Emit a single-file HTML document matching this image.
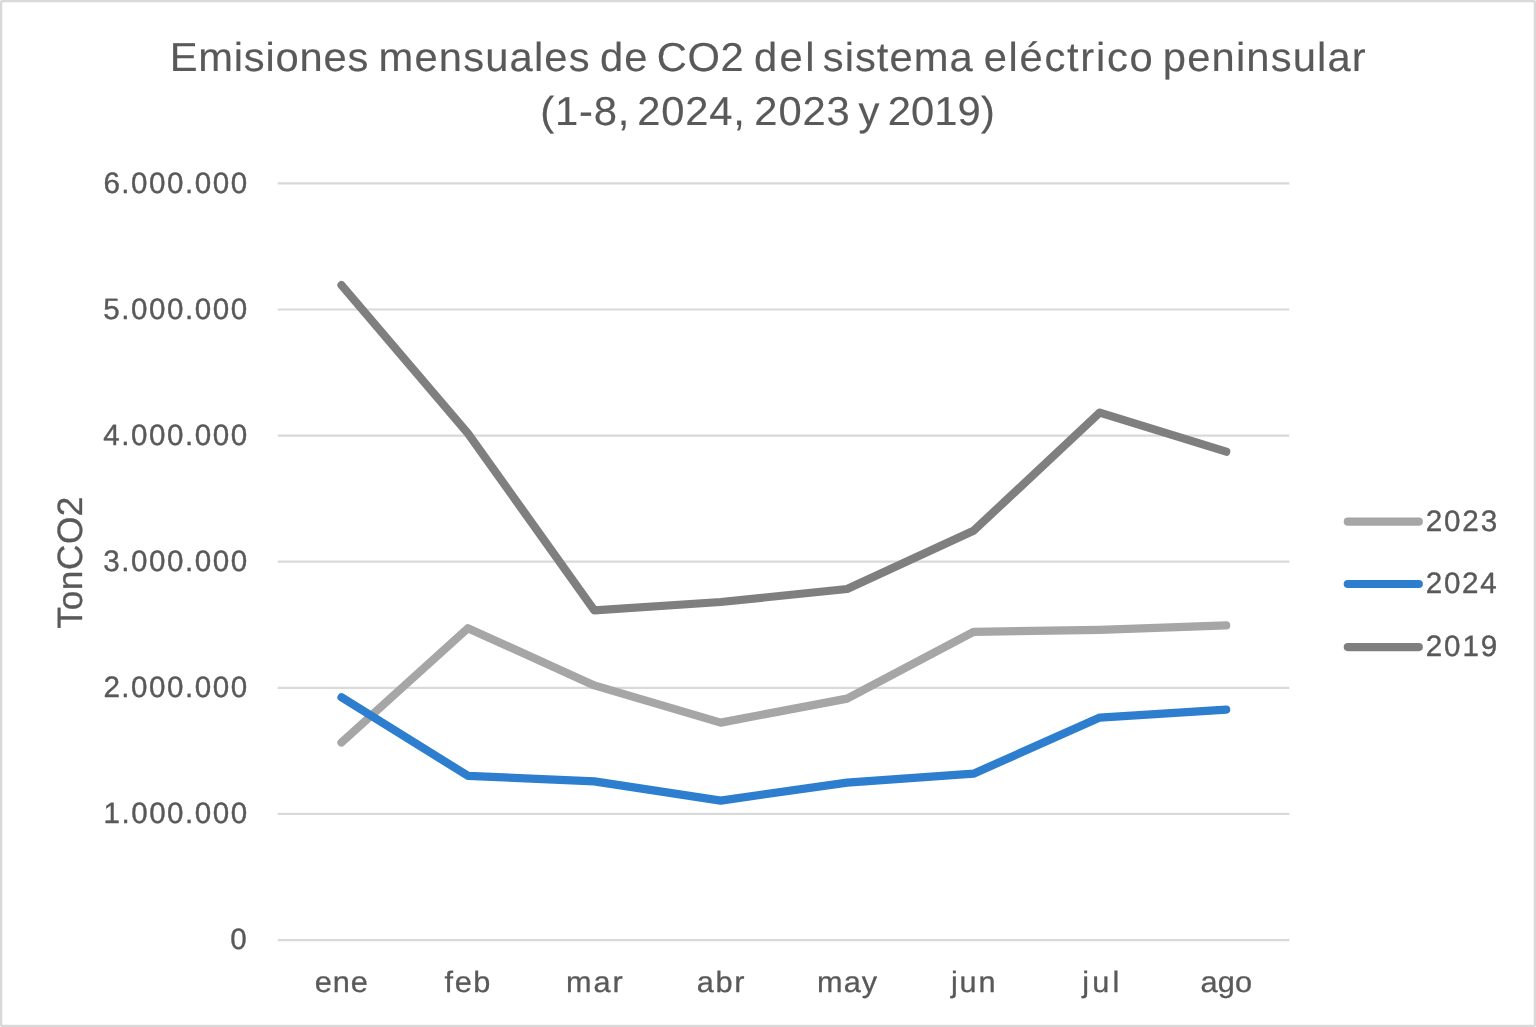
<!DOCTYPE html>
<html lang="es">
<head>
<meta charset="utf-8">
<title>Emisiones mensuales de CO2 del sistema eléctrico peninsular</title>
<style>
html,body{margin:0;padding:0;background:#fff;}
body{width:1536px;height:1027px;overflow:hidden;}
svg{display:block;}
text{font-family:"Liberation Sans", sans-serif;fill:#595959;stroke:#595959;stroke-linejoin:round;text-rendering:geometricPrecision;}
</style>
</head>
<body>
<svg width="1536" height="1027" viewBox="0 0 1536 1027">
<rect x="0" y="0" width="1536" height="1027" fill="#ffffff"/>
<rect x="1.15" y="1.15" width="1533.7" height="1024.7" rx="0.6" ry="0.6" fill="none" stroke="#D9D9D9" stroke-width="2.3"/>

<g id="title" stroke-width="0.15">
<text transform="scale(1.03,1)" y="71" font-size="40.5"><tspan x="164.70" letter-spacing="0.752">Emisiones</tspan> <tspan x="367.53" letter-spacing="1.129">mensuales</tspan> <tspan x="582.43" letter-spacing="1.193">de</tspan> <tspan x="637.71" letter-spacing="0.490">CO2</tspan> <tspan x="731.95" letter-spacing="2.447">del</tspan> <tspan x="798.88" letter-spacing="0.975">sistema</tspan> <tspan x="955.04" letter-spacing="1.658">eléctrico</tspan> <tspan x="1128.98" letter-spacing="1.126">peninsular</tspan></text>
<text transform="scale(1.03,1)" y="125" font-size="40.5"><tspan x="524.44" letter-spacing="0.841">(1-8,</tspan> <tspan x="618.81" letter-spacing="0.776">2024,</tspan> <tspan x="732.40" letter-spacing="0.793">2023</tspan> <tspan x="833.51" letter-spacing="0.000">y</tspan> <tspan x="861.92" letter-spacing="0.084">2019)</tspan></text>
</g>
<g id="gridlines">
<line x1="277.7" y1="940.05" x2="1289.3" y2="940.05" stroke="#D9D9D9" stroke-width="2.2"/>
<line x1="277.7" y1="813.94" x2="1289.3" y2="813.94" stroke="#D9D9D9" stroke-width="2.2"/>
<line x1="277.7" y1="687.83" x2="1289.3" y2="687.83" stroke="#D9D9D9" stroke-width="2.2"/>
<line x1="277.7" y1="561.72" x2="1289.3" y2="561.72" stroke="#D9D9D9" stroke-width="2.2"/>
<line x1="277.7" y1="435.62" x2="1289.3" y2="435.62" stroke="#D9D9D9" stroke-width="2.2"/>
<line x1="277.7" y1="309.51" x2="1289.3" y2="309.51" stroke="#D9D9D9" stroke-width="2.2"/>
<line x1="277.7" y1="183.40" x2="1289.3" y2="183.40" stroke="#D9D9D9" stroke-width="2.2"/>
</g>
<g id="y-axis-labels" stroke-width="0.4">
<text x="230.32" letter-spacing="0.000" y="949.00" font-size="29.6">0</text>
<text x="103.46" letter-spacing="1.517" y="823.00" font-size="29.6">1.000.000</text>
<text x="103.38" letter-spacing="1.526" y="697.00" font-size="29.6">2.000.000</text>
<text x="103.35" letter-spacing="1.530" y="571.00" font-size="29.6">3.000.000</text>
<text x="103.30" letter-spacing="1.536" y="445.00" font-size="29.6">4.000.000</text>
<text x="103.36" letter-spacing="1.529" y="319.00" font-size="29.6">5.000.000</text>
<text x="103.38" letter-spacing="1.526" y="193.00" font-size="29.6">6.000.000</text>
</g>
<g id="x-axis-labels" stroke-width="0.3">
<text transform="translate(314.83,992) scale(1.04,1)" letter-spacing="0.811" font-size="29.5">ene</text>
<text transform="translate(444.61,992) scale(1.04,1)" letter-spacing="1.518" font-size="29.5">feb</text>
<text transform="translate(565.88,992) scale(1.04,1)" letter-spacing="1.934" font-size="29.5">mar</text>
<text transform="translate(696.83,992) scale(1.04,1)" letter-spacing="1.579" font-size="29.5">abr</text>
<text transform="translate(816.93,992) scale(1.04,1)" letter-spacing="1.102" font-size="29.5">may</text>
<text transform="translate(951.00,992) scale(1.04,1)" letter-spacing="1.700" font-size="29.5">jun</text>
<text transform="translate(1082.25,992) scale(1.04,1)" letter-spacing="3.023" font-size="29.5">jul</text>
<text transform="translate(1200.53,992) scale(1.04,1)" letter-spacing="0.202" font-size="29.5">ago</text>
</g>
<text id="y-axis-title" stroke-width="0.35" transform="translate(81.8,627.8) rotate(-90)" x="-0.62" letter-spacing="0.537" font-size="35.2">TonCO2</text>
<g id="series">
<polyline points="341.5,742.5 467.9,628.2 594.3,685.4 720.7,722.6 847.1,698.6 973.5,631.8 1099.8,629.9 1226.2,625.3" fill="none" stroke="#A6A6A6" stroke-width="8.2" stroke-linecap="round" stroke-linejoin="round"/>
<polyline points="341.5,697.3 467.9,775.8 594.3,781.4 720.7,800.6 847.1,782.6 973.5,773.7 1099.8,717.6 1226.2,709.6" fill="none" stroke="#2E7ECF" stroke-width="8.2" stroke-linecap="round" stroke-linejoin="round"/>
<polyline points="341.5,285.1 467.9,433.4 594.3,610.3 720.7,602.0 847.1,589.0 973.5,530.8 1099.8,412.6 1226.2,451.7" fill="none" stroke="#7F7F7F" stroke-width="8.2" stroke-linecap="round" stroke-linejoin="round"/>
</g>
<g id="legend" stroke-width="0.4">
<line x1="1347.8" y1="521.7" x2="1418.8" y2="521.7" stroke="#A6A6A6" stroke-width="8.2" stroke-linecap="round"/>
<text x="1425.81" letter-spacing="1.830" y="531" font-size="29.6">2023</text>
<line x1="1347.8" y1="584.0" x2="1418.8" y2="584.0" stroke="#2E7ECF" stroke-width="8.2" stroke-linecap="round"/>
<text x="1425.81" letter-spacing="1.680" y="593" font-size="29.6">2024</text>
<line x1="1347.8" y1="647.05" x2="1418.8" y2="647.05" stroke="#7F7F7F" stroke-width="8.2" stroke-linecap="round"/>
<text x="1425.81" letter-spacing="1.862" y="656" font-size="29.6">2019</text>
</g>
</svg>
</body>
</html>
